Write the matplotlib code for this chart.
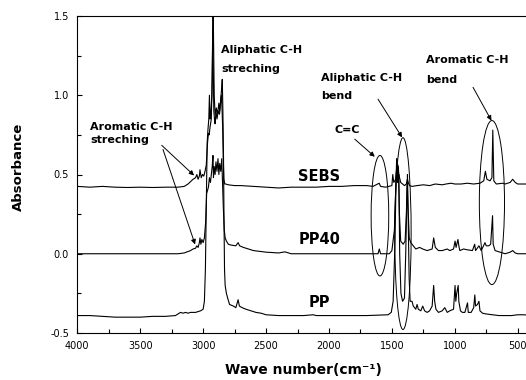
import matplotlib
matplotlib.use('Agg')
import matplotlib.pyplot as plt
from matplotlib.patches import Ellipse
from matplotlib.ticker import MultipleLocator, FormatStrFormatter

plt.rcParams['font.family'] = ['DejaVu Sans']
plt.rcParams['axes.unicode_minus'] = False

# 光谱数据 (波数 cm-1, 吸光度)
sebs_wn = [4000, 3900, 3800, 3700, 3600, 3500, 3400, 3300, 3200, 3150,
           3120, 3100, 3080, 3060, 3050, 3040, 3030, 3025, 3015, 3005,
           2995, 2985, 2975, 2965, 2958, 2952, 2945, 2935, 2928, 2924,
           2920, 2915, 2910, 2905, 2898, 2890, 2880, 2870, 2862, 2855,
           2850, 2845, 2840, 2835, 2828, 2820, 2800, 2750, 2700, 2600,
           2500, 2400, 2300, 2200, 2100, 2000, 1900, 1800, 1700, 1650,
           1601, 1590, 1550, 1500, 1493, 1485, 1470, 1460, 1452, 1445,
           1430, 1400, 1385, 1377, 1370, 1360, 1340, 1300, 1250, 1200,
           1155, 1100, 1070, 1030, 1000, 950, 900, 850, 800, 770,
           757, 745, 720, 705, 698, 690, 670, 620, 600, 560,
           540, 520, 500, 450, 400]
sebs_abs = [0.425, 0.42, 0.425, 0.42, 0.418, 0.42, 0.418, 0.42, 0.42, 0.425,
            0.44, 0.455, 0.47, 0.48, 0.50, 0.47, 0.49, 0.53, 0.48, 0.50,
            0.49, 0.52, 0.56, 0.70, 0.76, 0.75, 0.80, 0.85, 1.10, 1.42,
            1.20, 0.90, 0.85, 0.82, 0.90, 0.85, 0.90, 0.88, 0.95, 1.00,
            0.92, 0.80, 0.60, 0.47, 0.44, 0.44, 0.435, 0.43, 0.43, 0.425,
            0.42, 0.415, 0.42, 0.42, 0.42, 0.425, 0.425, 0.43, 0.43, 0.425,
            0.445, 0.425, 0.42, 0.43, 0.50, 0.45, 0.47, 0.55, 0.56, 0.50,
            0.45, 0.43, 0.44, 0.47, 0.45, 0.43, 0.425, 0.43, 0.435, 0.43,
            0.44, 0.435, 0.44, 0.445, 0.44, 0.44, 0.445, 0.44, 0.445, 0.46,
            0.52, 0.47, 0.46, 0.48, 0.78, 0.46, 0.44, 0.445, 0.44, 0.45,
            0.47, 0.45, 0.44, 0.44, 0.44]

pp40_wn = [4000, 3800, 3600, 3400, 3200, 3150, 3100, 3080, 3060, 3050,
           3040, 3030, 3025, 3018, 3010, 3000, 2990, 2980, 2972, 2965,
           2958, 2950, 2942, 2935, 2928, 2922, 2918, 2912, 2905, 2898,
           2890, 2882, 2875, 2868, 2860, 2852, 2846, 2840, 2832, 2825,
           2815, 2800, 2780, 2740, 2722, 2710, 2680, 2600, 2500, 2400,
           2350, 2300, 2000, 1800, 1700, 1610, 1600, 1590, 1520, 1500,
           1480, 1470, 1462, 1455, 1448, 1440, 1430, 1410, 1395, 1385,
           1378, 1372, 1362, 1350, 1330, 1310, 1280, 1255, 1220, 1180,
           1168, 1155, 1130, 1100, 1060, 1040, 1010, 998, 990, 975,
           968, 960, 930, 900, 860, 842, 835, 808, 790, 760,
           750, 730, 715, 700, 695, 680, 640, 600, 560, 540,
           520, 500, 450, 400]
pp40_abs = [0.0, 0.0, 0.0, 0.0, 0.0, 0.005, 0.02, 0.03, 0.035, 0.05,
            0.04, 0.07, 0.10, 0.06, 0.09, 0.07, 0.10, 0.20, 0.38, 0.40,
            0.42, 0.48, 0.45, 0.50, 0.55, 0.62, 0.48, 0.55, 0.50, 0.58,
            0.52, 0.60, 0.50, 0.57, 0.52, 0.60, 0.45, 0.30, 0.15, 0.10,
            0.08, 0.06, 0.055, 0.05, 0.07, 0.05, 0.04, 0.02, 0.01, 0.005,
            0.012, 0.0, 0.0, 0.0, 0.0, 0.0, 0.03, 0.0, 0.0, 0.02,
            0.15, 0.40, 0.60, 0.45, 0.55, 0.25, 0.08, 0.06, 0.08, 0.25,
            0.45, 0.30, 0.10, 0.07, 0.05, 0.03, 0.04, 0.03, 0.02, 0.03,
            0.10, 0.04, 0.02, 0.02, 0.03, 0.02, 0.03, 0.08, 0.04, 0.09,
            0.05, 0.02, 0.03, 0.025, 0.02, 0.06, 0.02, 0.05, 0.02, 0.07,
            0.05, 0.05, 0.06, 0.24, 0.06, 0.02, 0.01, 0.0, 0.01, 0.02,
            0.005, 0.0, 0.0, 0.0]

pp_wn = [4000, 3900, 3800, 3700, 3600, 3500, 3400, 3300, 3220, 3200,
         3180, 3160, 3140, 3120, 3100, 3060, 3020, 3000, 2990, 2982,
         2975, 2968, 2962, 2955, 2950, 2945, 2938, 2930, 2925, 2921,
         2917, 2912, 2905, 2895, 2885, 2875, 2868, 2860, 2852, 2848,
         2843, 2838, 2834, 2830, 2825, 2815, 2805, 2790, 2760, 2740,
         2722, 2712, 2690, 2660, 2620, 2580, 2540, 2500, 2400, 2200,
         2125, 2100, 1900, 1700, 1530, 1505, 1490, 1478, 1468, 1460,
         1452, 1445, 1438, 1428, 1415, 1400, 1390, 1380, 1376, 1370,
         1363, 1355, 1340, 1330, 1310, 1300, 1290, 1270, 1255, 1240,
         1220, 1200, 1180, 1168, 1160, 1150, 1130, 1100, 1080, 1060,
         1040, 1010, 998, 992, 985, 973, 968, 955, 940, 920,
         899, 893, 870, 850, 841, 835, 820, 808, 800, 780,
         750, 700, 650, 600, 550, 500, 450, 400]
pp_abs = [-0.39, -0.39, -0.395, -0.40, -0.40, -0.40, -0.395, -0.395, -0.39, -0.38,
          -0.37, -0.375, -0.37, -0.375, -0.37, -0.37, -0.36, -0.35, -0.30, -0.10,
          0.30, 0.70, 0.78, 0.85, 1.00, 0.85, 0.90, 1.00, 1.30, 1.60,
          1.35, 1.00, 0.88, 0.92, 0.88, 0.95, 0.90, 0.98, 1.05, 1.10,
          0.90, 0.60, 0.20, -0.10, -0.20, -0.25, -0.28, -0.32, -0.33, -0.34,
          -0.29, -0.33, -0.34, -0.35, -0.36, -0.37, -0.375, -0.385, -0.39, -0.39,
          -0.385, -0.39, -0.39, -0.39, -0.385, -0.37, -0.30, 0.00, 0.40, 0.60,
          0.45, 0.50, 0.00, -0.25, -0.30, -0.28, 0.00, 0.40, 0.50, 0.20,
          -0.15, -0.30, -0.30, -0.33, -0.35, -0.32, -0.35, -0.36, -0.33, -0.36,
          -0.37, -0.36, -0.33, -0.20, -0.30, -0.35, -0.37, -0.36, -0.34, -0.37,
          -0.36, -0.35, -0.20, -0.30, -0.25, -0.20, -0.30, -0.36, -0.37, -0.37,
          -0.31, -0.37, -0.37, -0.34, -0.26, -0.33, -0.32, -0.30, -0.36, -0.375,
          -0.38, -0.385, -0.39, -0.39, -0.39, -0.385, -0.385, -0.39]

# 曲线名称及标注位置
curve_names = ['SEBS', 'PP40', 'PP']
name_x = [2075, 2072, 2073]
name_y = [0.49, 0.09, -0.31]

# 圈出的吸收带 (中心波数, 中心吸光度, 宽, 高)
band_x = [1595, 1412, 705]
band_y = [0.24, 0.127, 0.323]
band_w = [140, 130, 200]
band_h = [0.76, 1.21, 1.035]

fig = plt.figure(figsize=(5.26, 3.8), dpi=100)
ax = fig.add_axes([77.3 / 526, 47 / 380, 453 / 526, 317 / 380])

ax.plot(sebs_wn, sebs_abs, color='black', lw=0.8)
ax.plot(pp40_wn, pp40_abs, color='black', lw=0.8)
ax.plot(pp_wn, pp_abs, color='black', lw=0.8)

for i in range(len(band_x)):
    e = Ellipse((band_x[i], band_y[i]), band_w[i], band_h[i],
                fill=False, edgecolor='black', lw=0.7)
    ax.add_patch(e)

for i in range(len(curve_names)):
    ax.text(name_x[i], name_y[i], curve_names[i], fontsize=10.5,
            fontweight='bold', ha='center', va='center')

# 峰的说明文字
txt = dict(fontsize=8, fontweight='bold', ha='left', va='center')
ax.text(3899, 0.797, 'Aromatic C-H', **txt)
ax.text(3899, 0.715, 'streching', **txt)
ax.text(2858, 1.285, 'Aliphatic C-H', **txt)
ax.text(2858, 1.165, 'streching', **txt)
ax.text(2063, 1.108, 'Aliphatic C-H', **txt)
ax.text(2063, 0.994, 'bend', **txt)
ax.text(1954, 0.778, 'C=C', **txt)
ax.text(1226, 1.222, 'Aromatic C-H', **txt)
ax.text(1226, 1.095, 'bend', **txt)

arrow = dict(arrowstyle='-|>', color='black', lw=0.7, mutation_scale=7,
             shrinkA=0, shrinkB=0)
ax.annotate('', xy=(3072, 0.494), xytext=(3329, 0.684), arrowprops=arrow)
ax.annotate('', xy=(3064, 0.059), xytext=(3319, 0.658), arrowprops=arrow)
ax.annotate('', xy=(1419, 0.734), xytext=(1610, 0.975), arrowprops=arrow)
ax.annotate('', xy=(1636, 0.612), xytext=(1795, 0.723), arrowprops=arrow)
ax.annotate('', xy=(709, 0.84), xytext=(855, 1.05), arrowprops=arrow)

ax.set_xlim(4000, 400)
ax.set_ylim(-0.5, 1.5)
ax.xaxis.set_major_locator(MultipleLocator(500))
ax.xaxis.set_minor_locator(MultipleLocator(250))
ax.yaxis.set_major_locator(MultipleLocator(0.5))
ax.yaxis.set_minor_locator(MultipleLocator(0.25))
ax.yaxis.set_major_formatter(FormatStrFormatter('%.1f'))
ax.tick_params(which='both', direction='in', top=False, right=False,
               labelsize=7, width=0.8)
ax.tick_params(which='major', length=3.5, pad=6)
ax.tick_params(which='minor', length=3)
for s in ax.spines.values():
    s.set_linewidth(0.8)

fig.text(18 / 526, 1 - 167 / 380, 'Absorbance', rotation=90, fontsize=9.5,
         fontweight='bold', ha='center', va='center')
fig.text(303.5 / 526, 1 - 370 / 380, 'Wave number(cm⁻¹)', fontsize=10,
         fontweight='bold', ha='center', va='center')

fig.savefig('out.png', dpi=100)
